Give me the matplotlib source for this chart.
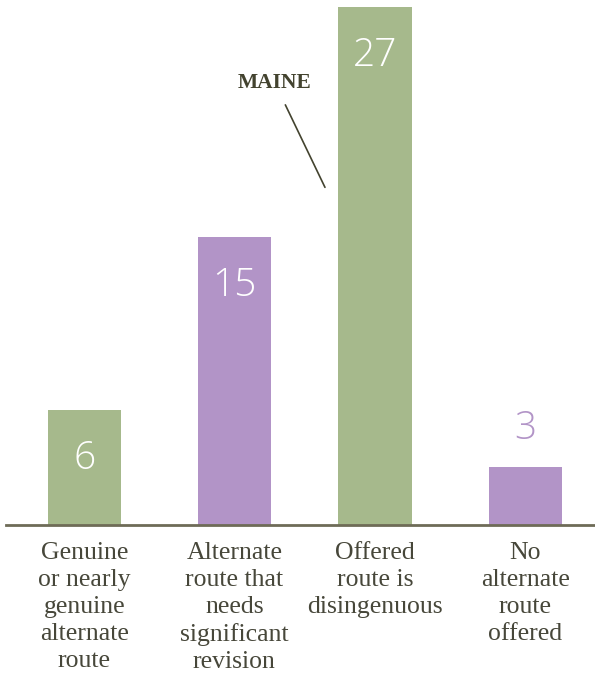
import matplotlib
matplotlib.use("Agg")
import matplotlib.pyplot as plt

categories = [
    "Genuine\nor nearly\ngenuine\nalternate\nroute",
    "Alternate\nroute that\nneeds\nsignificant\nrevision",
    "Offered\nroute is\ndisingenuous",
    "No\nalternate\nroute\noffered",
]
counts = [6, 15, 27, 3]
colors = ["#a6b98c", "#b294c7", "#a6b98c", "#b294c7"]

W, H = 595, 681
fig = plt.figure(figsize=(W / 100, H / 100), dpi=100)
ax = fig.add_axes([6 / W, (H - 525) / H, (595 - 6) / W, 518 / H])

x = [0, 1.02, 1.976, 3.0]
ax.bar(x, counts, width=0.5, color=colors)
ax.set_xlim(-0.534, 3.473)
ax.set_ylim(0, 27)

for s in ["top", "right", "left"]:
    ax.spines[s].set_visible(False)
ax.spines["bottom"].set_color("#6e6b57")
ax.spines["bottom"].set_linewidth(2)
ax.set_yticks([])
ax.set_xticks(x)
ax.set_xticklabels(categories, family="Liberation Serif", fontsize=18.5,
                   color="#47473a", linespacing=1.3, va="top")
ax.tick_params(axis="x", length=0, pad=12)

num_font = dict(family="Open Sans", fontweight="light", fontsize=28, ha="center", va="center")
for xi, v, c in zip(x, counts, colors):
    if v >= 5:
        ax.text(xi, v - 2.55, str(v), color="white", **num_font)
    else:
        ax.text(xi, v + 2.0, str(v), color=c, **num_font)

ax.annotate("MAINE", xy=(1.636, 17.6), xytext=(1.296, 22.5),
            family="Liberation Serif", fontweight="bold", fontsize=15.5,
            color="#43432f", ha="center", va="bottom",
            arrowprops=dict(arrowstyle="-", color="#43432f", lw=1.2,
                            shrinkA=7, shrinkB=0))

plt.savefig("out.png", dpi=100)
plt.close()
